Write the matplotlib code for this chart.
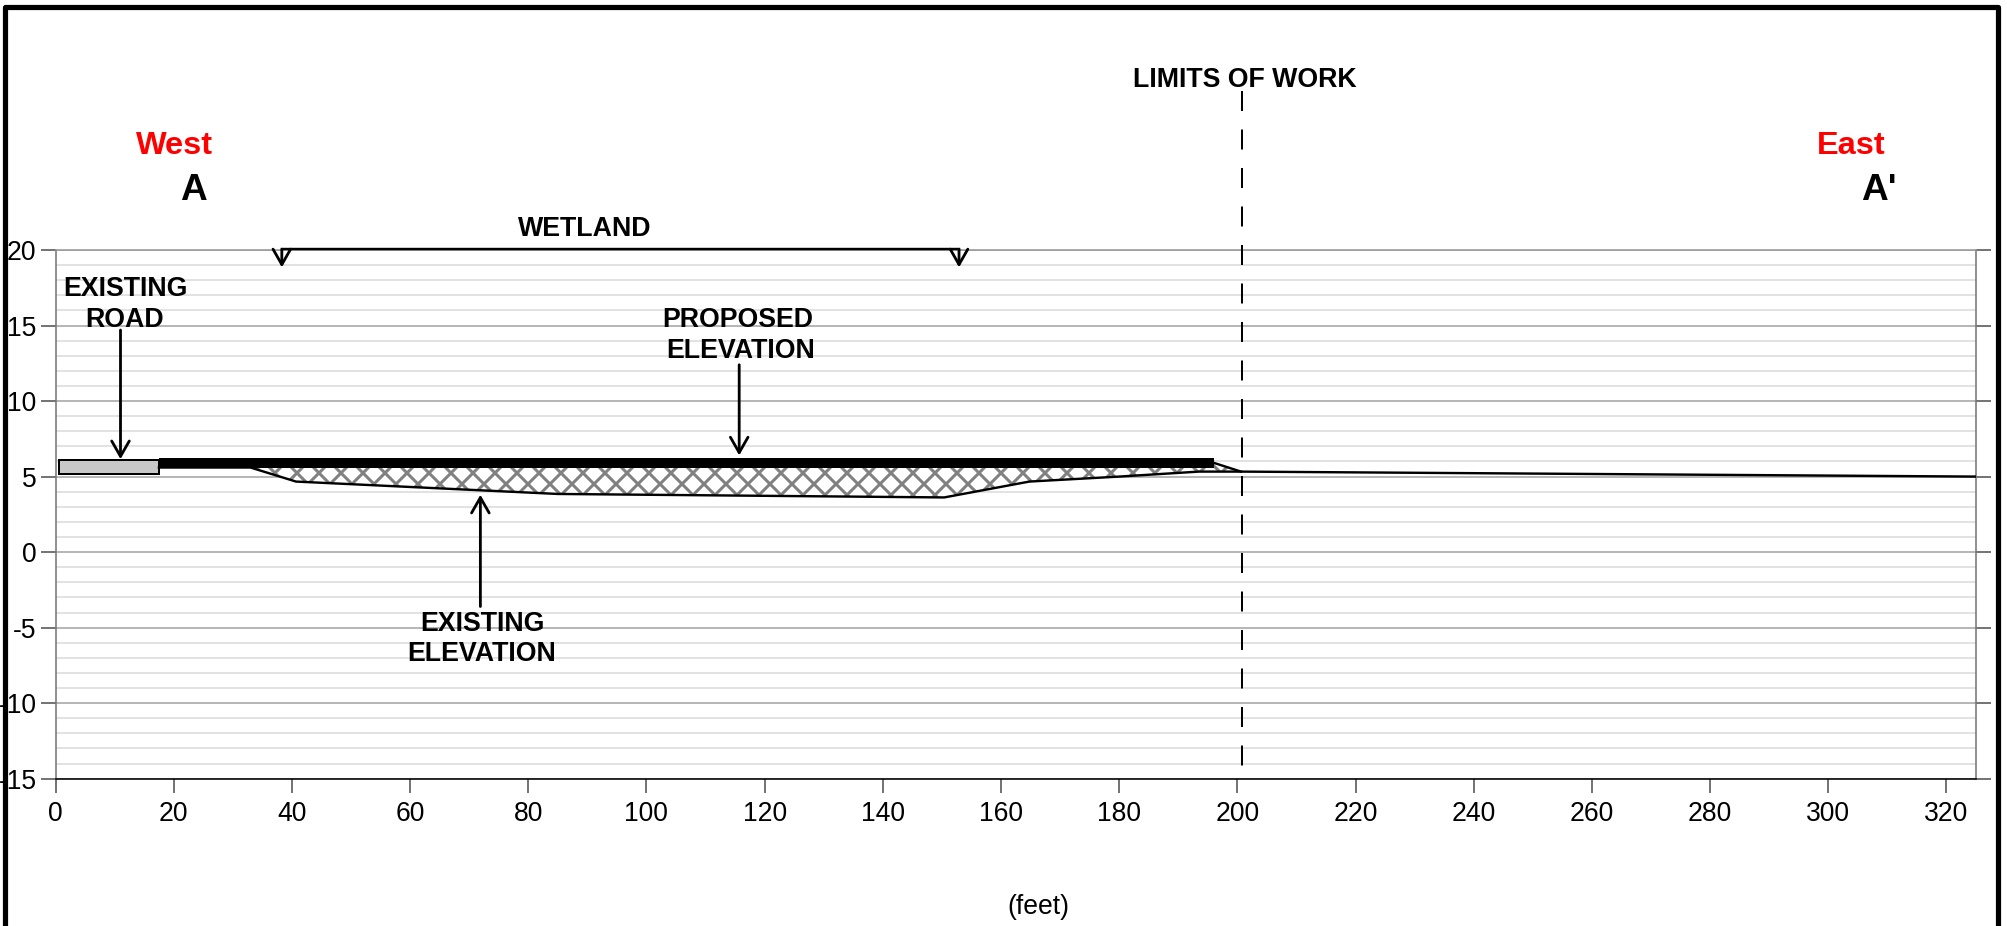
import matplotlib
matplotlib.use("Agg")
import matplotlib.pyplot as plt
from matplotlib.lines import Line2D
from matplotlib.patches import Rectangle

# survey profile
existing_x = [17.5, 33, 40.7, 85, 150.4, 164.8, 180, 193.5, 200.6, 325]
existing_y = [5.6, 5.6, 4.67, 3.85, 3.62, 4.67, 5.0, 5.33, 5.33, 5.0]
proposed_x = [17.5, 196.1]
proposed_y = [5.92, 5.92]
shoulder_x = [196.1, 200.6]
shoulder_y = [5.9, 5.33]
fill_x = [33, 40.7, 85, 150.4, 164.8, 180, 193.5, 196.1, 200.6]
fill_bottom = [5.6, 4.67, 3.85, 3.62, 4.67, 5.0, 5.33, 5.33, 5.33]
fill_top = [5.6, 5.6, 5.6, 5.6, 5.6, 5.6, 5.6, 5.9, 5.33]
road_x = [0.6, 17.5]
road_y = [5.15, 6.1]
limit_x = 200.8
wetland_x = [38.3, 152.9]

x_ticks = list(range(0, 321, 20))
y_ticks = [20, 15, 10, 5, 0, -5, -10, -15]
y_labels = ["20", "15", "10", "5", "0", "-5", "-10", "-15"]
y_minor = [v for v in range(-15, 21) if v % 5 != 0]

W, H = 2007, 926
DPI = 132  # hatch tile is one inch, this gives the same diamond size
PX = 72 / DPI

plt.rcParams["font.family"] = ["Liberation Sans", "DejaVu Sans"]
plt.rcParams["hatch.linewidth"] = 3 * PX

fig = plt.figure(figsize=(W / DPI, H / DPI), dpi=DPI)
ax = fig.add_axes([55.5 / W, 1 - 778.7 / H, 1920.5 / W, 528.7 / H])
ax.set_xlim(0, 325)
ax.set_ylim(-15, 20)

ax.set_xticks(x_ticks)
ax.set_yticks(y_ticks)
ax.set_yticklabels(y_labels)
ax.set_yticks(y_minor, minor=True)
ax.tick_params(axis="y", which="minor", length=0)
ax.tick_params(axis="y", which="major", left=True, right=True, length=15 * PX, width=1.6 * PX,
               color="#555555", labelsize=26.5 * PX, pad=4 * PX)
ax.tick_params(axis="x", which="major", length=14 * PX, width=1.8 * PX, color="#666666",
               labelsize=26.5 * PX, pad=8 * PX)
ax.grid(axis="y", which="major", color="#b0b0b0", lw=1.8 * PX)
ax.grid(axis="y", which="minor", color="#dcdcdc", lw=1.6 * PX)
ax.set_axisbelow(True)
for side, col in [("left", "#777777"), ("right", "#777777"), ("top", "#999999"), ("bottom", "black")]:
    ax.spines[side].set_color(col)
    ax.spines[side].set_linewidth(1.6 * PX)

ax.fill_between(fill_x, fill_bottom, fill_top, facecolor="white", edgecolor="#808080",
                hatch="xx", lw=0, zorder=2)
ax.add_patch(Rectangle((road_x[0], road_y[0]), road_x[1] - road_x[0], road_y[1] - road_y[0],
                       facecolor="#c8c8c8", edgecolor="black", lw=2 * PX, zorder=3))
ax.plot(existing_x, existing_y, color="black", lw=2.4 * PX, zorder=4)
ax.plot(shoulder_x, shoulder_y, color="black", lw=2.4 * PX, zorder=4)
ax.plot(proposed_x, proposed_y, color="black", lw=10 * PX, solid_capstyle="butt", zorder=5)

# drawn from the top so the dash phase starts at the top end
ax.plot([limit_x, limit_x], [30.5, -15], color="black", lw=2 * PX, clip_on=False, zorder=5,
        dashes=(10, 9.25), dash_capstyle="butt")


def arrow(x0, y0, x1, y1):
    ax.annotate("", xy=(x1, y1), xytext=(x0, y0), zorder=6, annotation_clip=False,
                arrowprops=dict(arrowstyle="->,head_length=0.7,head_width=0.4", color="black",
                                lw=2.8 * PX, shrinkA=0, shrinkB=0, mutation_scale=12))


ax.plot(wetland_x, [20.05, 20.05], color="black", lw=2.4 * PX, clip_on=False, zorder=6)
arrow(wetland_x[0], 20.05, wetland_x[0], 18.85)
arrow(wetland_x[1], 20.05, wetland_x[1], 18.85)
arrow(11, 14.7, 11, 6.15)
arrow(115.7, 12.4, 115.7, 6.4)
arrow(71.9, -3.6, 71.9, 3.8)


def label(px, py, s, size, **kw):
    fig.text(px / W, 1 - py / H, s, fontsize=size * PX, ha="center", va="center", **kw)


bold = dict(fontweight="bold", color="black")
label(1245, 80, "LIMITS OF WORK", 26.8, **bold)
label(174, 146.5, "West", 32.5, fontweight="bold", color="#ff0000")
label(1851, 146.5, "East", 32.5, fontweight="bold", color="#ff0000")
label(193, 190.5, "A", 37, **bold)
label(1879, 190.5, "A'", 37, **bold)
label(585, 229, "WETLAND", 26.8, **bold)
label(125, 289.5, "EXISTING", 26.8, **bold)
label(125, 320, "ROAD", 26.8, **bold)
label(738, 320, "PROPOSED", 26.8, **bold)
label(741, 351, "ELEVATION", 26.8, **bold)
label(482, 624, "EXISTING", 26.8, **bold)
label(482, 654, "ELEVATION", 26.8, **bold)
label(1038, 907, "(feet)", 26.5, color="black")

# thick black frame, open at the bottom, on top of the clipped minus signs
frame_x = [4.8, 4.8, 1997.5, 1997.5]
frame_y = [926, 6.5, 6.5, 926]
fig.add_artist(Line2D([v / W for v in frame_x], [1 - v / H for v in frame_y], color="black",
                      lw=5.2 * PX, solid_joinstyle="round", zorder=10))

fig.savefig("out.png", dpi=DPI)
